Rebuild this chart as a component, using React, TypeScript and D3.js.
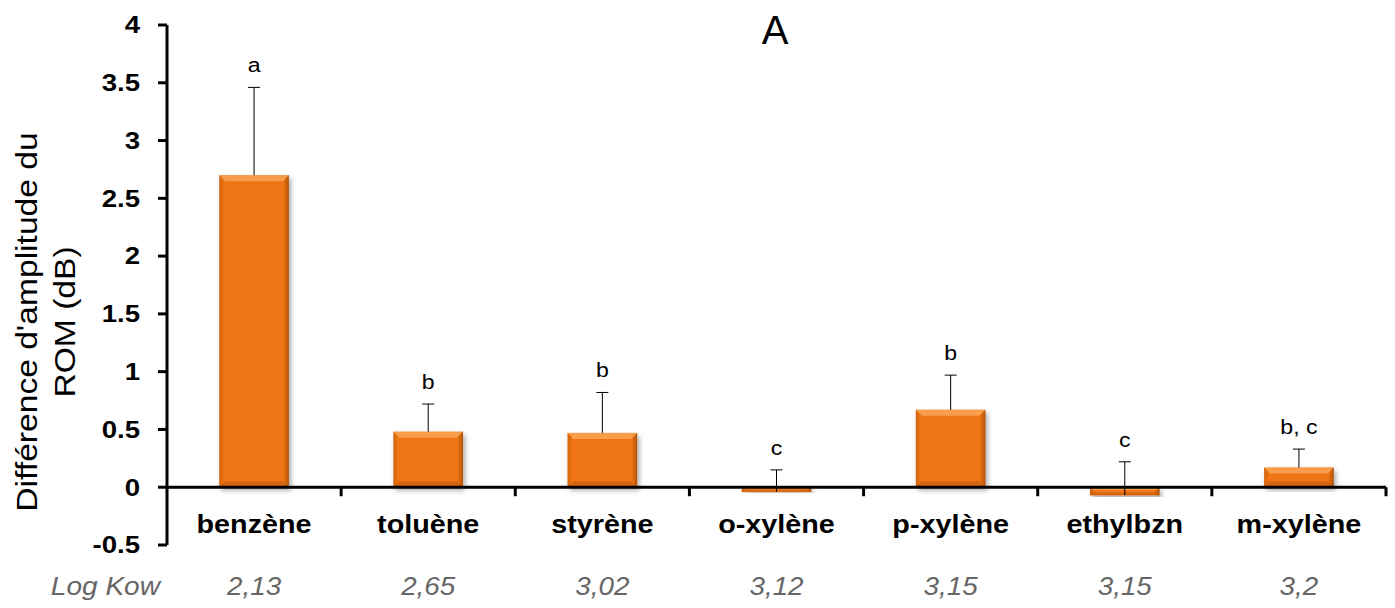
import React from "react";
import * as d3 from "d3";

const categories = ["benzène", "toluène", "styrène", "o-xylène", "p-xylène", "ethylbzn", "m-xylène"];
const values = [2.7, 0.48, 0.47, -0.04, 0.67, -0.07, 0.17];
const errTops = [3.46, 0.72, 0.82, 0.15, 0.97, 0.22, 0.33];
const letters = ["a", "b", "b", "c", "b", "c", "b, c"];
const logKow = ["2,13", "2,65", "3,02", "3,12", "3,15", "3,15", "3,2"];
const yTicks = [-0.5, 0, 0.5, 1, 1.5, 2, 2.5, 3, 3.5, 4];

const W = 1395, H = 608;
const left = 167, right = 1386, top = 25, bottom = 545;
const font = "Arial, 'Liberation Sans', sans-serif";

function T(props: {
  x: number; y: number; sx?: number; rot?: number; anchor?: string; size: number;
  bold?: boolean; italic?: boolean; fill?: string; children: React.ReactNode; dy?: string;
}) {
  const { x, y, sx = 1, rot = 0, anchor = "middle", size, bold, italic, fill = "#000", children, dy } = props;
  return (
    <g transform={`translate(${x},${y}) rotate(${rot}) scale(${sx},1)`}>
      <text
        textAnchor={anchor}
        dy={dy}
        fontFamily={font}
        fontSize={size}
        fontWeight={bold ? "bold" : "normal"}
        fontStyle={italic ? "italic" : "normal"}
        fill={fill}
      >
        {children}
      </text>
    </g>
  );
}

export default function App() {
  const y = d3.scaleLinear().domain([-0.5, 4]).range([bottom, top]);
  const x = d3.scaleBand().domain(categories).range([left, right]).paddingInner(0.6).paddingOuter(0.3);
  const bands = d3.scaleBand().domain(categories).range([left, right]);
  const y0 = y(0);
  const bw = x.bandwidth();
  return (
    <svg width={W} height={H} style={{ position: "absolute", left: 0, top: 0 }}>
      <defs>
        <filter id="sh" x="-20%" y="-20%" width="140%" height="140%">
          <feDropShadow dx="2" dy="3" stdDeviation="2.5" floodColor="#000" floodOpacity="0.35" />
        </filter>
        <linearGradient id="side" x1="0" x2="1" y1="0" y2="0">
          <stop offset="0" stopColor="#D2620C" />
          <stop offset="0.07" stopColor="#EF7512" />
          <stop offset="0.92" stopColor="#EF7512" />
          <stop offset="1" stopColor="#B0520A" />
        </linearGradient>
      </defs>
      <rect width={W} height={H} fill="#fff" />
      {categories.map((c, i) => {
        const v = values[i];
        const bx = x(c)!;
        const yt = Math.min(y(v), y0);
        const h = Math.abs(y(v) - y0);
        const bev = Math.min(6, h / 3);
        return (
          <g key={c}>
            <rect x={bx} y={yt} width={bw} height={h} fill="url(#side)" filter="url(#sh)" />
            <polygon
              points={`${bx},${yt} ${bx + bw},${yt} ${bx + bw - bev},${yt + bev} ${bx + bev},${yt + bev}`}
              fill="#F8A555"
              opacity={0.85}
            />
            <polygon
              points={`${bx},${yt + h} ${bx + bw},${yt + h} ${bx + bw - bev},${yt + h - bev} ${bx + bev},${yt + h - bev}`}
              fill="#C25A0A"
              opacity={0.6}
            />
          </g>
        );
      })}
      {categories.map((c, i) => {
        const cx = x(c)! + bw / 2;
        const yt = y(errTops[i]);
        return (
          <g key={c + "e"} stroke="#000" strokeWidth={1}>
            <line x1={cx} x2={cx} y1={y(values[i])} y2={yt} />
            <line x1={cx - 6} x2={cx + 6} y1={yt} y2={yt} />
          </g>
        );
      })}
      {categories.map((c, i) => (
        <T key={c + "l"} x={x(c)! + bw / 2} y={y(errTops[i]) - 15} size={21} sx={1.1}>
          {letters[i]}
        </T>
      ))}
      <line x1={left} x2={left} y1={top} y2={bottom} stroke="#000" strokeWidth={3} />
      {yTicks.map((t) => (
        <g key={t}>
          <line x1={left - 9} x2={left} y1={y(t)} y2={y(t)} stroke="#000" strokeWidth={3} />
          <T x={140} y={y(t)} dy="0.36em" anchor="end" size={23} sx={1.2} bold>
            {String(t)}
          </T>
        </g>
      ))}
      <line x1={left} x2={right} y1={y0} y2={y0} stroke="#000" strokeWidth={3} />
      {categories.map((c) => (
        <line key={c + "t"} x1={bands(c)! + bands.bandwidth()} x2={bands(c)! + bands.bandwidth()} y1={y0} y2={y0 + 9} stroke="#000" strokeWidth={3} />
      ))}
      {categories.map((c) => (
        <T key={c + "x"} x={bands(c)! + bands.bandwidth() / 2} y={533} size={25} sx={1.15} bold>
          {c}
        </T>
      ))}
      <T x={160} y={595} anchor="end" size={26} sx={1.08} italic fill="#666">
        Log Kow
      </T>
      {categories.map((c, i) => (
        <T key={c + "k"} x={bands(c)! + bands.bandwidth() / 2} y={595} size={26} sx={1.07} italic fill="#666">
          {logKow[i]}
        </T>
      ))}
      <g transform="translate(37,322) rotate(-90) scale(1.12,1)">
        <text textAnchor="middle" fontFamily={font} fontSize={30} fill="#000">
          <tspan x={0} dy={0}>Différence d'amplitude du</tspan>
          <tspan x={0} dy={38}>ROM (dB)</tspan>
        </text>
      </g>
      <T x={775} y={44} size={40}>A</T>
    </svg>
  );
}
